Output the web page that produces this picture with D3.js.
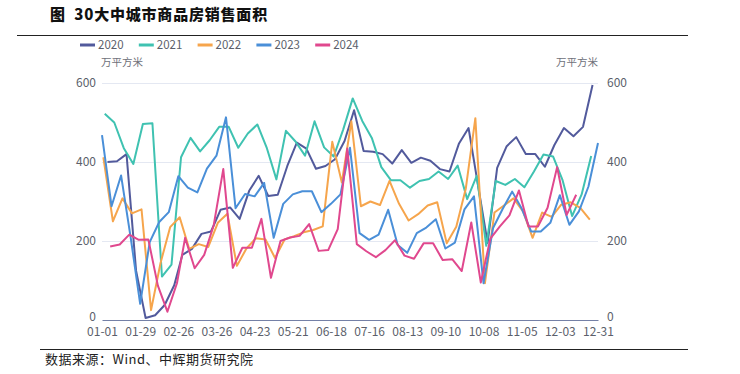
<!DOCTYPE html>
<html>
<head>
<meta charset="utf-8">
<script src="https://cdn.jsdelivr.net/npm/d3@7"></script>
<style>
  body { margin: 0; background: #fff; }
  text { font-family: "Noto Sans CJK SC", "Noto Sans", sans-serif; }
</style>
</head>
<body>
<script>
// weekly data, 30 big/mid cities, 万平方米
var years = ["2020", "2021", "2022", "2023", "2024"];
var startDates = ["2020-01-05", "2021-01-03", "2022-01-02", "2023-01-01", "2024-01-07"];
var colors = ["#525a9c", "#3fc2b1", "#f6a54c", "#4a8fd8", "#e0488e"];

var v2020 = [400, 402, 420, 125, 5, 12, 38, 88, 165, 180, 218, 224, 279, 285, 256, 327, 365, 314, 317, 390,
    449, 434, 383, 390, 407, 453, 531, 428, 426, 420, 396, 430, 398, 411, 403, 382, 376, 447, 486, 340,
    195, 385, 440, 463, 420, 420, 388, 443, 486, 465, 489, 595];
var v2021 = [522, 500, 435, 395, 496, 498, 110, 140, 412, 461, 427, 455, 489, 489, 436, 472, 495, 435, 356, 479,
    452, 416, 503, 437, 414, 482, 561, 504, 461, 387, 354, 354, 335, 352, 357, 376, 357, 391, 306, 365,
    188, 352, 342, 357, 336, 376, 419, 414, 354, 263, 318, 415];
var v2022 = [412, 250, 308, 270, 280, 25, 145, 235, 260, 180, 192, 185, 246, 269, 137, 181, 207, 204, 157, 204,
    212, 222, 228, 237, 451, 348, 503, 288, 300, 291, 352, 294, 252, 268, 290, 298, 194, 236, 333, 511,
    93, 272, 290, 308, 275, 208, 272, 261, 292, 298, 284, 254];
var v2023 = [468, 288, 366, 210, 41, 197, 248, 273, 364, 335, 323, 383, 416, 513, 283, 319, 313, 347, 208, 294,
    318, 326, 326, 273, 294, 318, 436, 220, 203, 216, 279, 190, 170, 220, 234, 255, 181, 196, 280, 313,
    93, 233, 281, 325, 282, 224, 224, 246, 316, 241, 275, 338, 448];
var v2024 = [186, 191, 216, 203, 204, 87, 21, 93, 208, 131, 165, 240, 382, 132, 183, 183, 256, 107, 200, 209,
    213, 243, 175, 177, 230, 434, 192, 174, 159, 177, 202, 163, 155, 194, 194, 152, 154, 124, 247, 95,
    206, 237, 265, 328, 237, 237, 284, 387, 266, 317];
var values = [v2020, v2021, v2022, v2023, v2024];

var tickLabels = ["01-01", "01-29", "02-26", "03-26", "04-23", "05-21", "06-18",
    "07-16", "08-13", "09-10", "10-08", "11-05", "12-03", "12-31"];
var yTicks = [0, 200, 400, 600];

var width = 740, height = 374;
var plot = { left: 102, right: 598, top: 83, bottom: 320 };
var baseYear = 2023;

var svg = d3.select("body").append("svg")
    .attr("width", width)
    .attr("height", height);

// title + rules
svg.append("text")
    .attr("x", 50).attr("y", 20)
    .attr("xml:space", "preserve")
    .style("white-space", "pre")
    .style("font-size", "15px").style("font-weight", 900).style("fill", "#111")
    .style("letter-spacing", "0.8px")
    .text("图  30大中城市商品房销售面积");
svg.append("line").attr("x1", 17).attr("x2", 688).attr("y1", 35.5).attr("y2", 35.5)
    .style("stroke", "#222").style("stroke-width", 1.2);
svg.append("line").attr("x1", 40).attr("x2", 688).attr("y1", 349.5).attr("y2", 349.5)
    .style("stroke", "#222").style("stroke-width", 1.2);
svg.append("text")
    .attr("x", 45).attr("y", 364)
    .style("font-size", "13px").style("letter-spacing", "0.5px").style("fill", "#222")
    .text("数据来源：Wind、中辉期货研究院");

var parseMD = d3.timeParse("%Y-%m-%d");
var toBase = function(d) { return new Date(baseYear, d.getMonth(), d.getDate()); };

var x = d3.scaleTime()
    .domain([new Date(baseYear, 0, 1), new Date(baseYear, 11, 31)])
    .range([plot.left, plot.right]);
var y = d3.scaleLinear().domain([0, 600]).range([plot.bottom, plot.top]);

// grid
svg.append("g").selectAll("line")
    .data(yTicks.filter(function(d) { return d > 0; }))
    .enter().append("line")
    .attr("x1", plot.left).attr("x2", plot.right)
    .attr("y1", function(d) { return Math.round(y(d)) + 0.5; })
    .attr("y2", function(d) { return Math.round(y(d)) + 0.5; })
    .style("stroke", "#e4e8f2");

var tickDates = tickLabels.map(function(s) { return parseMD(baseYear + "-" + s); });

var xAxis = svg.append("g")
    .attr("transform", "translate(0," + plot.bottom + ")")
    .call(d3.axisBottom(x).tickValues(tickDates).tickFormat(d3.timeFormat("%m-%d"))
        .tickSize(0).tickPadding(7));
xAxis.select(".domain").style("stroke", "#7480a6").style("stroke-width", 1.2);

var leftAxis = svg.append("g")
    .attr("transform", "translate(" + plot.left + ",0)")
    .call(d3.axisLeft(y).tickValues(yTicks).tickSize(0).tickPadding(6));
leftAxis.select(".domain").remove();
var rightAxis = svg.append("g")
    .attr("transform", "translate(" + plot.right + ",0)")
    .call(d3.axisRight(y).tickValues(yTicks).tickSize(0).tickPadding(9));
rightAxis.select(".domain").remove();

svg.selectAll(".tick text")
    .style("font-size", "12px").style("fill", "#5c5f6b")
    .style("font-family", "'Noto Sans CJK SC', 'Noto Sans', sans-serif");
// lift the zero labels so they clear the date labels
leftAxis.selectAll(".tick text").filter(function(d) { return d === 0; }).attr("dy", "0.05em");
rightAxis.selectAll(".tick text").filter(function(d) { return d === 0; }).attr("dy", "0.05em");

// unit names
svg.append("text").attr("x", 101).attr("y", 66)
    .style("font-size", "10.5px").style("fill", "#6e7079").text("万平方米");
svg.append("text").attr("x", 598).attr("y", 66).attr("text-anchor", "end")
    .style("font-size", "10.5px").style("fill", "#6e7079").text("万平方米");

// lines
var line = d3.line()
    .x(function(d) { return x(d.date); })
    .y(function(d) { return y(d.value); });

years.forEach(function(yr, k) {
    var start = parseMD(startDates[k]);
    var pts = values[k].map(function(v, i) {
        return { date: toBase(d3.timeDay.offset(start, 7 * i)), value: v };
    });
    svg.append("path")
        .datum(pts)
        .attr("d", line)
        .style("fill", "none")
        .style("stroke", colors[k])
        .style("stroke-width", 2)
        .style("stroke-linejoin", "round");
});

// legend
var legend = svg.selectAll(".legend")
    .data(years)
    .enter().append("g")
    .attr("class", "legend")
    .attr("transform", function(d, i) { return "translate(" + (80 + i * 58.8) + ",45)"; });
legend.append("line")
    .attr("x1", 0).attr("x2", 15).attr("y1", 0).attr("y2", 0)
    .style("stroke", function(d, i) { return colors[i]; })
    .style("stroke-width", 3);
legend.append("text")
    .attr("x", 18).attr("y", 4)
    .style("font-size", "11.5px").style("fill", "#5c5f6b")
    .text(function(d) { return d; });
</script>
</body>
</html>
